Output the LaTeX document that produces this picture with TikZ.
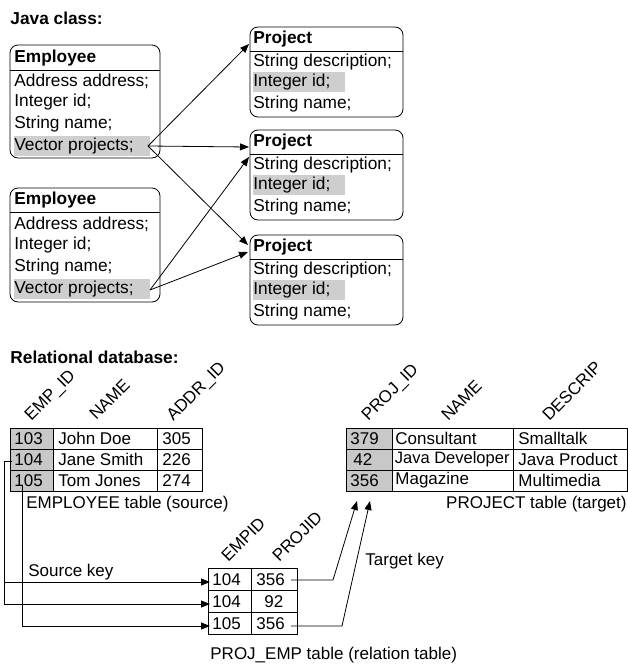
\documentclass[tikz,border=0pt]{standalone}
\usepackage{fontspec}
\setmainfont{Liberation Sans}
\usetikzlibrary{arrows.meta}
\newcommand{\txtsz}{\fontsize{17.3}{20}\selectfont}
\newcommand{\tblsz}{\fontsize{17}{20}\selectfont}
\definecolor{hlgray}{RGB}{206,206,206}
\definecolor{colgray}{RGB}{200,200,200}
\begin{document}
\begin{tikzpicture}[x=1pt,y=-1pt,line width=0.8pt,
  lbl/.style={anchor=west,inner sep=0pt,font=\txtsz},
  tbl/.style={anchor=west,inner sep=0pt,font=\tblsz},
  bold/.style={anchor=west,inner sep=0pt,font=\txtsz\bfseries},
  clsbox/.style={draw,rounded corners=8pt},
  conn/.style={-{Triangle[length=9pt,width=7pt]}},
  rot/.style={rotate=45,anchor=base west,inner sep=0pt,font=\tblsz}]
\useasboundingbox (0,0) rectangle (628,667);

% ---------- Java classes ----------
\node[bold] (title1) at (10,18) {Java class:};

% Employee 1
\fill[hlgray] (14,136) rectangle (150,156);
\draw[clsbox] (10,45) rectangle (160,158);
\draw (10,70) -- (160,70);
\node[bold] (e1h) at (14,58) {Employee};
\node[lbl] (e1a) at (14,81) {Address address;};
\node[lbl] (e1b) at (14,102.5) {Integer id;};
\node[lbl] (e1c) at (14,124) {String name;};
\node[lbl] (e1v) at (14,146) {Vector projects;};

% Employee 2
\fill[hlgray] (14,279) rectangle (150,299);
\draw[clsbox] (10,188) rectangle (160,302);
\draw (10,212) -- (160,212);
\node[bold] (e2h) at (14,200) {Employee};
\node[lbl] (e2a) at (14,224) {Address address;};
\node[lbl] (e2b) at (14,245.5) {Integer id;};
\node[lbl] (e2c) at (14,267) {String name;};
\node[lbl] (e2v) at (14,289) {Vector projects;};

% Project boxes
\foreach \n/\y in {1/27,2/130,3/235}{
  \fill[hlgray] (253,\y+45) rectangle (345,\y+65);
  \draw[clsbox] (250,\y) rectangle (403,\y+90);
  \draw (250,\y+24) -- (403,\y+24);
  \node[bold] (p\n h) at (253,\y+12) {Project};
  \node[lbl] (p\n a) at (253,\y+35) {String description;};
  \node[lbl] (p\n b) at (253,\y+55.5) {Integer id;};
  \node[lbl] (p\n c) at (253,\y+77) {String name;};
}

% Java connectors
\coordinate (e1s) at (148,146);
\coordinate (e2s) at (150,290);
\coordinate (p1t) at (249,44);
\coordinate (p2t) at (249,147);
\coordinate (p2u) at (249,157);
\coordinate (p3t) at (248,245);
\coordinate (p3u) at (248,252);
\draw[conn] (e1s) -- (p1t);
\draw[conn] (e1s) -- (p2t);
\draw[conn] (e1s) -- (p3t);
\draw[conn] (e2s) -- (p2u);
\draw[conn] (e2s) -- (p3u);

% ---------- Relational database ----------
\node[bold] (title2) at (10,357) {Relational database:};

% EMPLOYEE table
\node[rot] (hempid) at (31,422) {EMP\_ID};
\node[rot] (hname1) at (96,421) {NAME};
\node[rot] (haddr) at (173,422) {ADDR\_ID};
\fill[colgray] (10,428) rectangle (53,491);
\draw (10,428) rectangle (202,491);
\draw (10,449) -- (202,449);
\draw (10,470) -- (202,470);
\draw (53,428) -- (53,491);
\draw (157,428) -- (157,491);
\node[tbl] (ea1) at (14,438.5) {103};
\node[tbl] (eb1) at (58,438.5) {John Doe};
\node[tbl] (ec1) at (162,438.5) {305};
\node[tbl] (ea2) at (14,459.5) {104};
\node[tbl] (eb2) at (58,459.5) {Jane Smith};
\node[tbl] (ec2) at (162,459.5) {226};
\node[tbl] (ea3) at (14,480.5) {105};
\node[tbl] (eb3) at (58,480.5) {Tom Jones};
\node[tbl] (ec3) at (162,480.5) {274};
\node[tbl] (ecap) at (26,504) {EMPLOYEE table (source)};

% PROJECT table
\node[rot] (hprojid) at (368,422) {PROJ\_ID};
\node[rot] (hname2) at (448,422) {NAME};
\node[rot] (hdesc) at (549,422) {DESCRIP};
\fill[colgray] (346,428) rectangle (392,491);
\draw (346,428) rectangle (627,491);
\draw (346,449) -- (627,449);
\draw (346,470) -- (627,470);
\draw (392,428) -- (392,491);
\draw (513,428) -- (513,491);
\node[tbl] (pa1) at (350,438.5) {379};
\node[tbl] (pb1) at (395,438.5) {Consultant};
\node[tbl] (pc1) at (518,438.5) {Smalltalk};
\node[tbl] (pa2) at (353,459.5) {42};
\node[tbl,font=\fontsize{16.5}{20}\selectfont] (pb2) at (394.5,459.5) {Java Developer};
\node[tbl] (pc2) at (518,459.5) {Java Product};
\node[tbl] (pa3) at (350,480.5) {356};
\node[tbl] (pb3) at (395,480.5) {Magazine};
\node[tbl] (pc3) at (518,480.5) {Multimedia};
\node[tbl,anchor=east] (pcap) at (627,504) {PROJECT table (target)};

% PROJ_EMP table
\node[rot] (hempid2) at (228,563) {EMPID};
\node[rot] (hprojid2) at (279,563) {PROJID};
\draw (208,568) rectangle (297,634);
\draw (208,590) -- (297,590);
\draw (208,612) -- (297,612);
\draw (251,568) -- (251,634);
\node[tbl] (ra1) at (212,579.5) {104};
\node[tbl] (rb1) at (256,579.5) {356};
\node[tbl] (ra2) at (212,601.5) {104};
\node[tbl] (rb2) at (264,601.5) {92};
\node[tbl] (ra3) at (212,623.5) {105};
\node[tbl] (rb3) at (256,623.5) {356};
\node[tbl] (rcap) at (210,655) {PROJ\_EMP table (relation table)};

% Source key connectors
\node[tbl] (skey) at (28,572) {Source key};
\coordinate (s104) at (12,461);
\coordinate (s105) at (22,485);
\coordinate (r1in) at (210,582);
\coordinate (r2in) at (210,604);
\coordinate (r3in) at (210,626);
\draw (s104) -- (4,461) -- (4,604);
\draw[conn] (4,582) -- (r1in);
\draw[conn] (4,604) -- (r2in);
\draw[conn] (s105) |- (r3in);

% Target key connectors
\node[tbl] (tkey) at (365,561) {Target key};
\coordinate (t1s) at (291,580);
\coordinate (t3s) at (291,626);
\coordinate (t1e) at (357,501);
\coordinate (t3e) at (370,501);
\draw[conn] (t1s) -- (333,580) -- (t1e);
\draw[conn] (t3s) -- (342,626) -- (t3e);
\end{tikzpicture}
\end{document}
